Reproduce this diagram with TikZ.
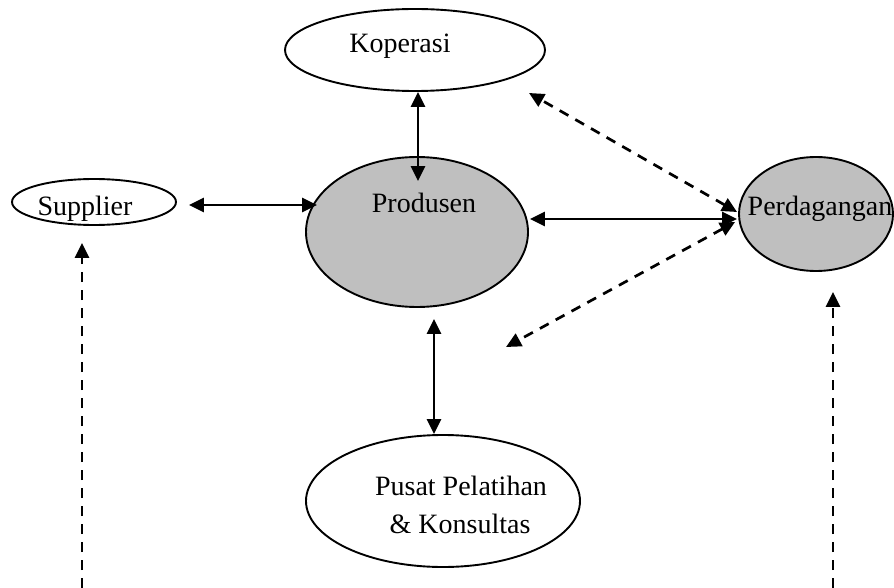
\documentclass[tikz,border=0pt]{standalone}
\usepackage{fontspec}
\setmainfont{Liberation Serif}
\usetikzlibrary{shapes.geometric,arrows.meta}

\definecolor{cinza}{gray}{0.75}

\begin{document}
\begin{tikzpicture}[x=1pt,y=-1pt,
        oval/.style={ellipse, draw, line width=1.9pt, inner sep=0pt},
        lbl/.style={anchor=base, inner sep=0pt, font=\fontsize{28}{34}\selectfont},
        twoway/.style={{Triangle[length=15pt,width=14pt]}-{Triangle[length=15pt,width=14pt]}, line width=2.7pt},
        dashway/.style={twoway, dash pattern=on 10pt off 8pt},
        oneway/.style={-{Triangle[length=15pt,width=14pt]}, line width=2.7pt, dash pattern=on 10pt off 8pt}]
        \useasboundingbox (0,0) rectangle (894,588);

        % ellipses
        \node[oval, minimum width=164, minimum height=46] (supplier) at (94,202) {};
        \node[oval, minimum width=260, minimum height=82] (koperasi) at (415,50) {};
        \node[oval, fill=cinza, minimum width=222, minimum height=150] (produsen) at (417,232) {};
        \node[oval, fill=cinza, minimum width=154, minimum height=114] (perdagangan) at (816,214) {};
        \node[oval, minimum width=274, minimum height=132] (pusat) at (443,501) {};

        % texts
        \node[lbl] (suppliertxt) at (85,215) {Supplier};
        \node[lbl] (koperasitxt) at (400,53) {Koperasi};
        \node[lbl] (produsentxt) at (424,213) {Produsen};
        \node[lbl] (perdagangantxt) at (820,215) {Perdagangan};
        \node[lbl] (pusattxt) at (461,495) {Pusat Pelatihan};
        \node[lbl] (konsultastxt) at (460,533) {\& Konsultas};

        % free ends
        \coordinate (kopdash) at (529,93);
        \coordinate (pusdash) at (506,347);
        \coordinate (supfoot) at (82,588);
        \coordinate (perfoot) at (833,588);

        % arrows
        \draw[twoway] ([xshift=12,yshift=-3]supplier.east) -- ([xshift=12,yshift=27]produsen.west);
        \draw[twoway] ([xshift=3]koperasi.south) -- ([xshift=1,yshift=-25]produsen.north);
        \draw[twoway] ([xshift=1,yshift=13]produsen.east) -- ([xshift=-1,yshift=-5]perdagangan.west);
        \draw[twoway] ([xshift=17,yshift=-11]produsen.south) -- ([xshift=-9]pusat.north);
        \draw[dashway] ([xshift=-1,yshift=2]perdagangan.west) -- (kopdash);
        \draw[dashway] ([xshift=-3,yshift=-8]perdagangan.west) -- (pusdash);
        \draw[oneway] (supfoot) -- ([xshift=-12,yshift=-17]supplier.south);
        \draw[oneway] (perfoot) -- ([xshift=17,yshift=-20]perdagangan.south);
    \end{tikzpicture}
\end{document}
